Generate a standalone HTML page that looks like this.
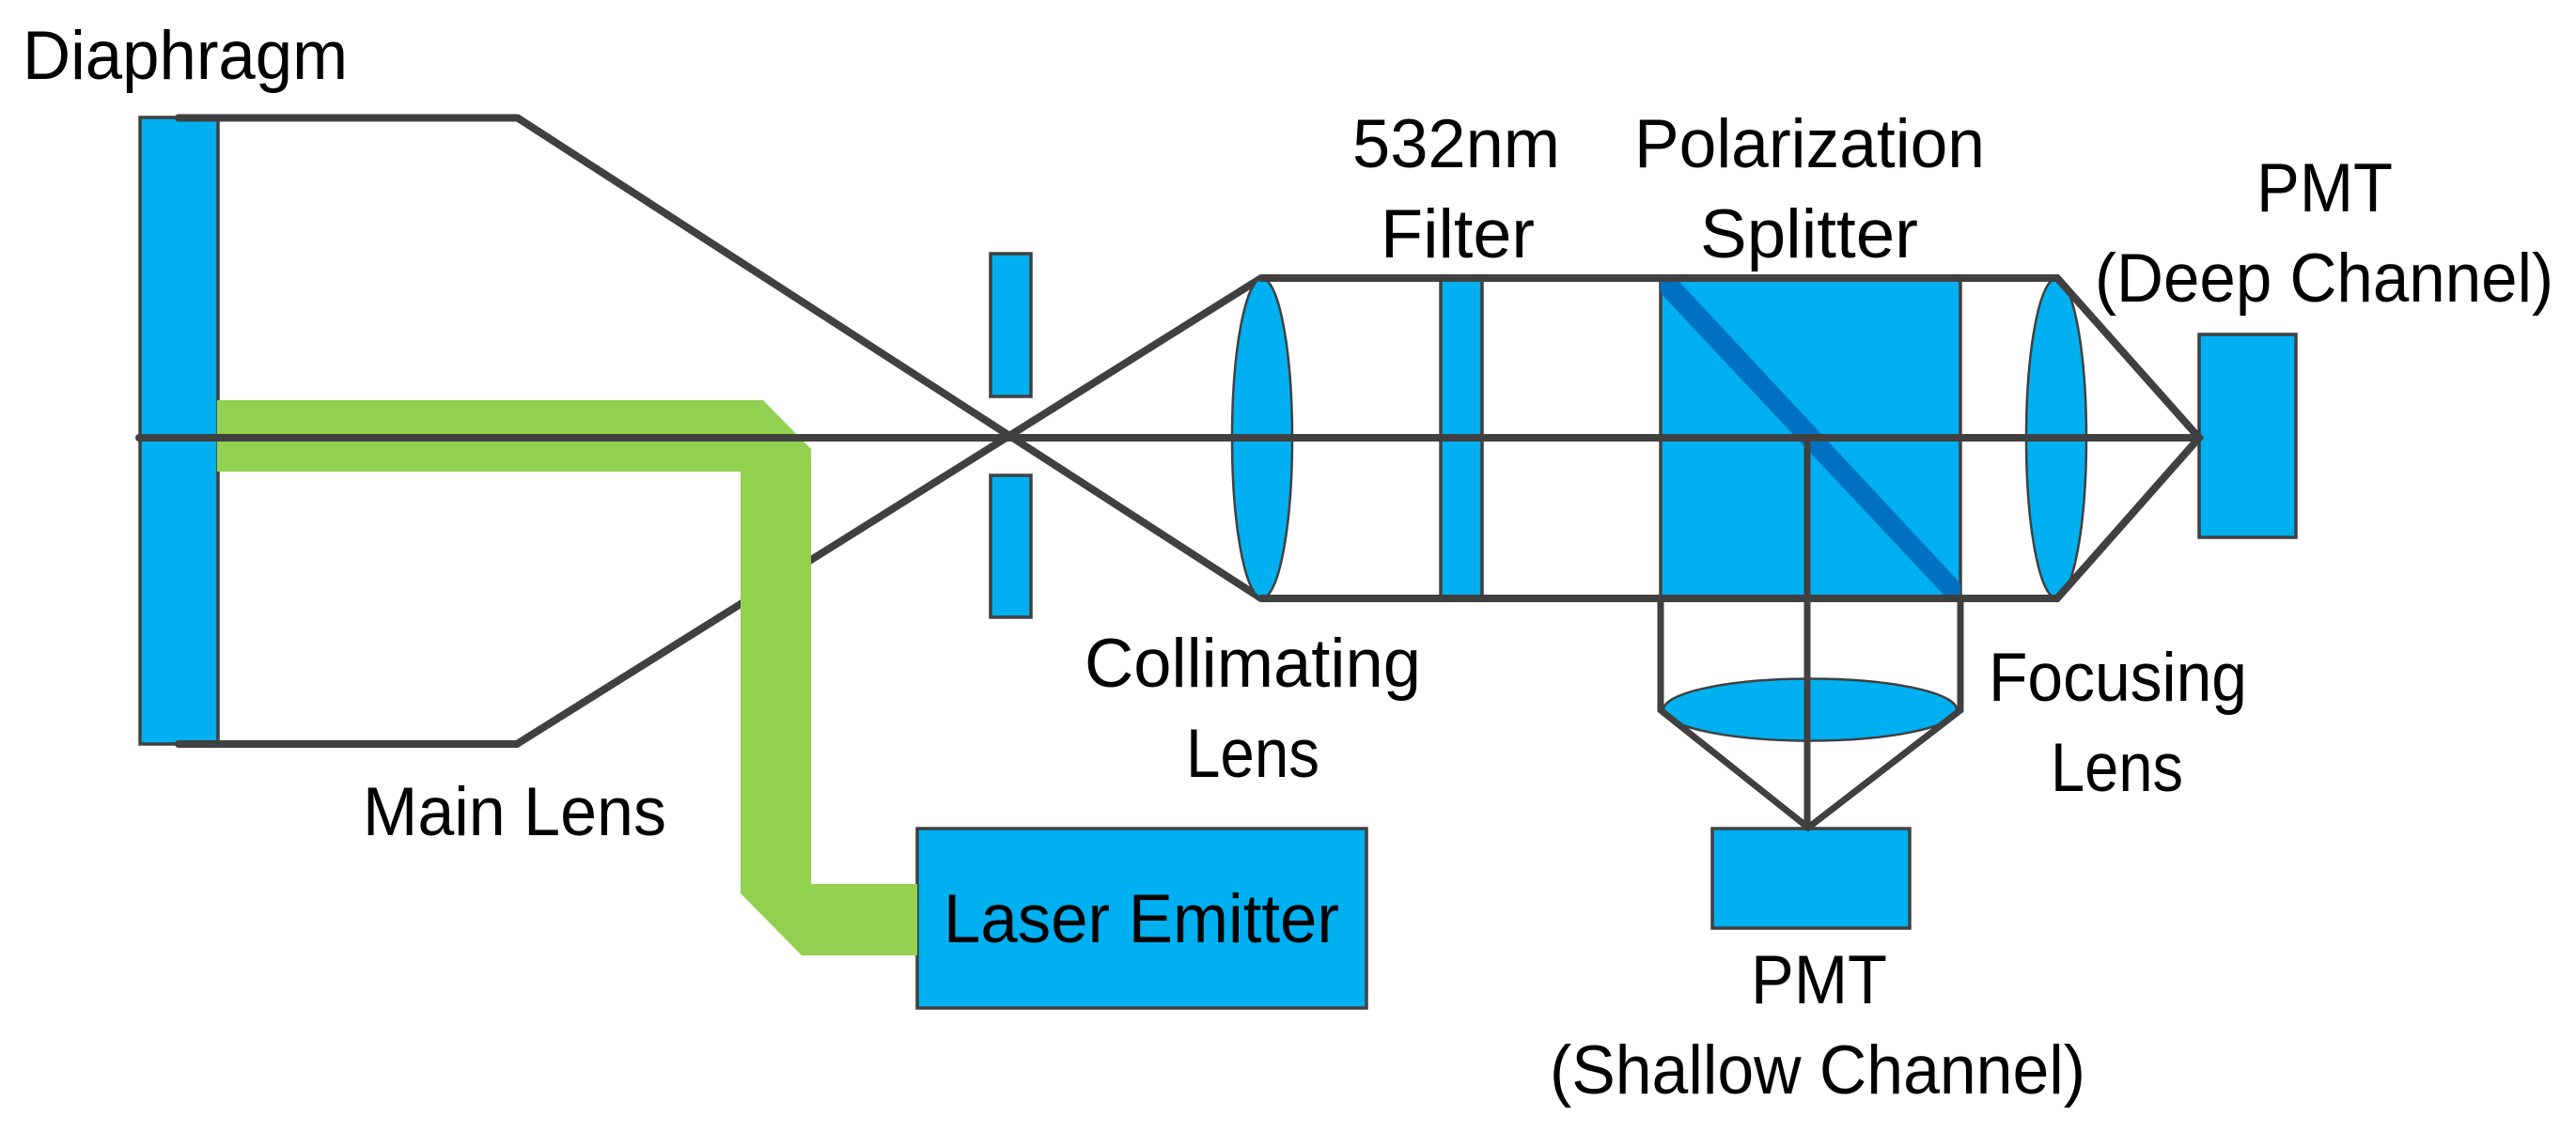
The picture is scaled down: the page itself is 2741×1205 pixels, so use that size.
<!DOCTYPE html>
<html>
<head>
<meta charset="utf-8">
<style>
html,body{margin:0;padding:0;background:#fff;width:2741px;height:1205px;overflow:hidden}
svg{display:block}
text{font-family:"Liberation Sans",sans-serif;font-size:73px;fill:#000}
</style>
</head>
<body>
<svg width="2741" height="1205" viewBox="0 0 2741 1205" xmlns="http://www.w3.org/2000/svg">
<rect width="2741" height="1205" fill="#fff"/>

<!-- main-lens rays; the lower one passes beneath the green beam -->
<g fill="none" stroke="#404040" stroke-width="8">
  <path d="M550 125L1342 637"/>
  <path d="M550 792L1342 296"/>
</g>

<!-- components -->
<g fill="#00b0f0" stroke="#404040" stroke-width="3.500">
  <rect x="149" y="125" width="83" height="667"/>
  <rect x="1054" y="270" width="43" height="152"/>
  <rect x="1054" y="506" width="43" height="151"/>
  <rect x="1533" y="296" width="44" height="341"/>
  <rect x="1767" y="296" width="319" height="341"/>
  <rect x="2340" y="356" width="103" height="216"/>
  <rect x="1822" y="882" width="210" height="106"/>
  <rect x="976" y="882" width="478" height="191"/>
</g>
<g fill="#00b0f0" stroke="#404040" stroke-width="2.500">
  <ellipse cx="1343" cy="466.500" rx="32" ry="170"/>
  <ellipse cx="2188" cy="466.500" rx="32" ry="170"/>
  <ellipse cx="1926" cy="755.500" rx="156" ry="33"/>
</g>

<!-- beam splitter diagonal -->
<polygon points="1767,300 1787,300 2086,621 2086,633 2068,633 1767,312" fill="#0070c0"/>

<!-- green laser beam -->
<polygon points="231,426 812,426 863,478 863,941 976,941 976,1017 853,1017 788,951 788,502 231,502" fill="#92d050"/>

<!-- rays -->
<g fill="none" stroke="#404040" stroke-width="8" stroke-linecap="round" stroke-linejoin="miter">
  <path d="M190 125.500H550"/>
  <path d="M190 792H550"/>
  <path d="M148 466H2340"/>
  <path d="M1342 296H2189L2340 466L2189 637H1342"/>
  <path d="M1767 637V756L1924 881L2086 756V637" stroke-width="7"/>
  <path d="M1923 466V881" stroke-width="7"/>
</g>

<!-- labels -->
<text x="24" y="84" textLength="346" lengthAdjust="spacingAndGlyphs">Diaphragm</text>
<text x="386" y="889" textLength="323" lengthAdjust="spacingAndGlyphs">Main Lens</text>
<text x="1439" y="178" textLength="221" lengthAdjust="spacingAndGlyphs">532nm</text>
<text x="1469" y="274" textLength="164" lengthAdjust="spacingAndGlyphs">Filter</text>
<text x="1739" y="178" textLength="373" lengthAdjust="spacingAndGlyphs">Polarization</text>
<text x="1809" y="274" textLength="232" lengthAdjust="spacingAndGlyphs">Splitter</text>
<text x="2401" y="225" textLength="145" lengthAdjust="spacingAndGlyphs">PMT</text>
<text x="2229" y="321" textLength="488" lengthAdjust="spacingAndGlyphs">(Deep Channel)</text>
<text x="1154" y="731" textLength="358" lengthAdjust="spacingAndGlyphs">Collimating</text>
<text x="1262" y="827" textLength="142" lengthAdjust="spacingAndGlyphs">Lens</text>
<text x="1004" y="1003" textLength="421" lengthAdjust="spacingAndGlyphs">Laser Emitter</text>
<text x="2116" y="746" textLength="275" lengthAdjust="spacingAndGlyphs">Focusing</text>
<text x="2182" y="842" textLength="141" lengthAdjust="spacingAndGlyphs">Lens</text>
<text x="1863" y="1068" textLength="145" lengthAdjust="spacingAndGlyphs">PMT</text>
<text x="1649" y="1164" textLength="570" lengthAdjust="spacingAndGlyphs">(Shallow Channel)</text>
</svg>
</body>
</html>
